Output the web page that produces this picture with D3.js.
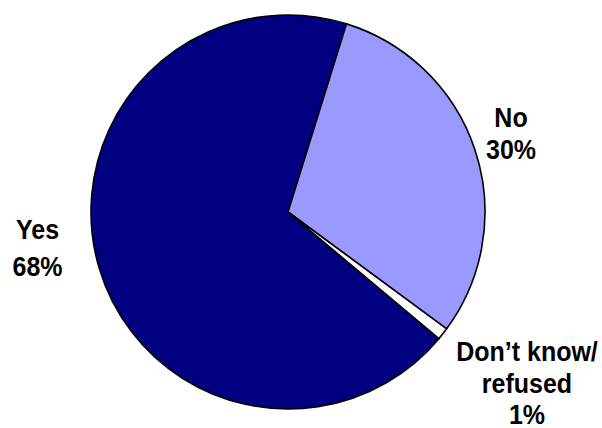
<!DOCTYPE html>
<html>
<head>
<meta charset="utf-8">
<script src="https://cdn.jsdelivr.net/npm/d3@7"></script>
<style>
  html, body { margin: 0; padding: 0; background: #fff; }
  svg { display: block; }
  text { font-family: "Liberation Sans", Arial, sans-serif; font-weight: bold; font-size: 25px; fill: #000; }
</style>
</head>
<body>
<svg id="chart" width="602" height="428"></svg>
<script>
// Survey answers
const categories = ["Yes", "No", "Don\u2019t know/ refused"];
const values = [68, 30, 1];
const colors = ["#000080", "#9999FF", "#FFFFFF"];
// Label lines for each answer
const labelLines = [
  ["Yes", "68%"],
  ["No", "30%"],
  ["Don\u2019t know/", "refused", "1%"]
];

const svg = d3.select("#chart");
const cx = 288, cy = 212, radius = 197;

const startDeg = 130;
const pie = d3.pie()
  .sort(null)
  .value(d => d)
  .startAngle(startDeg * Math.PI / 180)
  .endAngle((startDeg + 360) * Math.PI / 180);

const arc = d3.arc().innerRadius(0).outerRadius(radius);

const g = svg.append("g").attr("transform", `translate(${cx},${cy})`);
g.selectAll("path")
  .data(pie(values))
  .join("path")
  .attr("d", arc)
  .attr("fill", (d, i) => colors[i])
  .attr("stroke", "#000")
  .attr("stroke-width", 1.6)
  .attr("stroke-linejoin", "miter");

// Label placement: centre x and first baseline, with line spacing
const labelPos = [
  { x: 37.5, y: 239, dy: 37 },
  { x: 511, y: 127, dy: 32 },
  { x: 527, y: 361, dy: 31.5 }
];

// Each line is drawn slightly taller than wide, anchored on its baseline
labelLines.forEach((lines, i) => {
  const p = labelPos[i];
  lines.forEach((s, j) => {
    const by = p.y + j * p.dy;
    svg.append("text")
      .attr("text-anchor", "middle")
      .attr("transform", `translate(${p.x},${by}) scale(1,1.07)`)
      .text(s);
  });
});
</script>
</body>
</html>
